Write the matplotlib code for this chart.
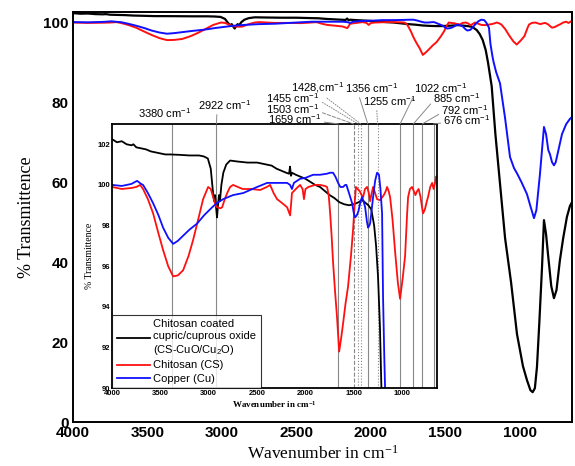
import numpy as np
import matplotlib
matplotlib.use('Agg')
import matplotlib.pyplot as plt

plt.rcParams['font.family'] = ['Liberation Sans', 'DejaVu Sans']
plt.rcParams['mathtext.default'] = 'regular'

# FTIR spectra (wavenumber, % transmittance)
black_w = [4000, 3950, 3900, 3850, 3800, 3780, 3750, 3700, 3650, 3600, 3550, 3500, 3450, 3400, 3300, 3200,
           3100, 3050, 3010, 2980, 2960, 2945, 2935, 2925, 2915, 2905, 2895, 2885, 2870, 2850, 2820, 2780,
           2700, 2600, 2500, 2400, 2350, 2300, 2250, 2200, 2170, 2160, 2150, 2140, 2100, 2050, 2000, 1950,
           1900, 1850, 1800, 1750, 1700, 1650, 1600, 1550, 1500, 1450, 1420, 1400, 1350, 1320, 1290, 1270,
           1250, 1230, 1215, 1190, 1165, 1130, 1100, 1060, 1020, 980, 953, 930, 915, 900, 886, 870,
           852, 839, 825, 812, 790, 772, 755, 732, 710, 685, 665, 651]
black_t = [102.25, 102.1, 102.15, 102.0, 101.95, 102.0, 101.85, 101.8, 101.75, 101.65, 101.6, 101.55, 101.5,
           101.5, 101.48, 101.45, 101.45, 101.4, 101.3, 100.8, 99.8, 99.2, 99.5, 98.9, 98.4, 99.0, 99.5,
           99.2, 100.0, 100.6, 101.0, 101.2, 101.15, 101.1, 101.1, 101.0, 100.95, 100.8, 100.7, 100.6,
           100.55, 100.9, 100.45, 100.6, 100.5, 100.4, 100.3, 100.15, 100.0, 99.9, 99.7, 99.5, 99.35, 99.15,
           99.05, 99.0, 99.05, 99.15, 99.25, 99.2, 99.0, 98.8, 98.0, 97.0, 95.5, 93.0, 90.0, 84.0, 72,
           58, 46, 35, 22, 14, 10.5, 8, 7.5, 8.5, 13.8, 25, 38.8, 50.5, 47, 42, 34, 31, 33, 40.5, 46,
           51.3, 54, 55]

red_w = [4000, 3900, 3800, 3750, 3710, 3680, 3630, 3576, 3520, 3473, 3420, 3369, 3320, 3266, 3210, 3162,
         3110, 3059, 3007, 2980, 2955, 2930, 2914, 2880, 2862, 2835, 2810, 2780, 2749, 2700, 2650, 2560,
         2470, 2400, 2366, 2330, 2294, 2240, 2190, 2159, 2150, 2140, 2100, 2056, 2030, 2016, 2000, 1970,
         1900, 1850, 1800, 1777, 1760, 1745, 1730, 1715, 1695, 1674, 1652, 1630, 1611, 1585, 1560, 1530,
         1508, 1490, 1478, 1460, 1440, 1420, 1404, 1385, 1363, 1345, 1332, 1315, 1301, 1280, 1260, 1230,
         1190, 1170, 1156, 1140, 1125, 1100, 1073, 1045, 1022, 995, 970, 950, 939, 920, 898, 880,
         863, 845, 830, 810, 795, 784, 765, 745, 733, 710, 690, 675, 660, 650]
red_t = [99.9, 99.8, 99.85, 99.9, 100.0, 99.8, 99.3, 98.6, 97.6, 96.8, 96.0, 95.5, 95.55, 95.8, 96.5, 97.3,
         98.3, 99.3, 99.9, 99.8, 99.4, 99.0, 98.9, 98.85, 98.9, 99.3, 99.6, 99.9, 100.0, 99.9, 99.8, 99.8,
         99.75, 99.9, 100.0, 99.6, 99.3, 99.1, 98.9, 98.5, 99.0, 99.6, 99.8, 100.0, 99.8, 99.3, 99.8, 99.9,
         100.0, 100.0, 99.95, 99.9, 99.5, 98.6, 97.5, 96.2, 94.8, 93.5, 91.8, 92.5, 93.2, 94.2, 95.0, 96.5,
         97.8, 99.2, 99.9, 99.8, 99.7, 99.5, 99.4, 99.8, 99.9, 99.6, 99.2, 99.6, 99.9, 99.6, 99.3, 99.25,
         99.5, 99.7, 99.9, 99.7, 99.4, 98.3, 96.7, 95.2, 94.4, 95.4, 96.5, 98.5, 99.4, 99.8, 99.9, 99.7,
         99.5, 99.7, 99.8, 99.4, 98.9, 98.6, 98.8, 99.2, 99.4, 99.9, 100.1, 99.8, 100.1, 100.4]

blue_w = [4000, 3900, 3800, 3742, 3700, 3680, 3630, 3576, 3520, 3473, 3420, 3369, 3320, 3266, 3200, 3121,
          3050, 2987, 2920, 2852, 2750, 2645, 2500, 2397, 2300, 2190, 2160, 2140, 2120, 2056, 2000, 1921,
          1850, 1780, 1745, 1715, 1690, 1663, 1640, 1611, 1590, 1577, 1550, 1518, 1500, 1487, 1470, 1453,
          1430, 1415, 1400, 1383, 1365, 1353, 1340, 1332, 1315, 1301, 1280, 1260, 1240, 1225, 1208, 1198,
          1185, 1177, 1160, 1134, 1100, 1067, 1040, 1020, 990, 953, 930, 906, 890, 866, 850, 839,
          825, 810, 799, 785, 772, 760, 745, 718, 690, 665, 651]
blue_t = [100.0, 99.95, 100.05, 100.2, 100.05, 100.0, 99.6, 99.1, 98.5, 97.9, 97.4, 97.1, 97.25, 97.5, 97.8,
          98.1, 98.5, 98.8, 99.1, 99.3, 99.5, 99.6, 99.9, 100.1, 100.1, 100.1, 100.0, 99.8, 100.1, 100.3,
          100.35, 100.5, 100.5, 100.55, 100.6, 100.6, 100.4, 100.1, 99.9, 99.9, 100.0, 100.0, 99.6, 99.1,
          98.6, 98.4, 98.5, 98.7, 99.2, 99.4, 99.2, 98.9, 98.2, 97.9, 98.0, 98.1, 98.8, 99.4, 100.2, 100.6,
          100.5, 99.8, 98.6, 94.5, 91.5, 90.0, 87.5, 84.7, 76, 66.3, 63.5, 62.2, 60, 57, 54, 51, 53, 62,
          69, 73.8, 72, 68, 67, 65, 64.2, 65, 67.5, 72, 74.5, 75.8, 76.3]

legend_labels = ['Chitosan coated\ncupric/cuprous oxide\n(CS-CuO/Cu$_2$O)', 'Chitosan (CS)', 'Copper (Cu)']

# marked bands: wavenumber, label, line style
peak_w = [3380, 2922, 1659, 1503, 1455, 1428, 1356, 1255, 1022, 885, 792, 676]
peak_ls = ['-', '-', '-', '--', ':', ':', '-', ':', '-', '-', '-', '-']
# label centre (image pixels) and where the leader leaves the text box
peak_txt = [(165, 113), (225, 105), (295, 119), (293, 109), (293, 98), (318, 88),
            (372, 88), (390, 101), (441, 88), (457, 98), (465, 110), (467, 120)]
peak_rel = [None, (0.35, 0), (1, 0.3), (1, 0.3), (1, 0.3), (0.6, 0),
            (0.25, 0), (0.25, 0), (0, 0), (0, 0.3), (0, 0.3), (0, 0.3)]

fig = plt.figure(figsize=(5.75, 4.66), dpi=100)
ax = fig.add_axes([0.127, 0.094, 0.868, 0.880])
ax.plot(black_w, black_t, color='black', lw=1.6)
ax.plot(red_w, red_t, color='#ff1010', lw=1.4)
ax.plot(blue_w, blue_t, color='#1010ff', lw=1.4)
ax.set_xlim(4000, 650)
ax.set_ylim(0, 102.5)
ax.set_xticks([4000, 3500, 3000, 2500, 2000, 1500, 1000])
ax.set_yticks([0, 20, 40, 60, 80, 100])
ax.tick_params(length=0, labelsize=11, pad=3)
for lab in ax.get_xticklabels() + ax.get_yticklabels():
    lab.set_fontweight('bold')
for s in ax.spines.values():
    s.set_linewidth(1.4)
ax.set_xlabel('Wavenumber in cm$^{-1}$', family='Liberation Serif', fontsize=12.5, labelpad=3)
ax.set_ylabel('% Transmittence', family='Liberation Serif', fontsize=13, labelpad=6)

# inset
axi = fig.add_axes([0.195, 0.167, 0.565, 0.567])
for w, ls in zip(peak_w, peak_ls):
    axi.axvline(w, color='#888888', lw=0.8, ls=ls, zorder=0)
l1, = axi.plot(black_w, black_t, color='black', lw=1.3)
l2, = axi.plot(red_w, red_t, color='#ff1010', lw=1.3)
l3, = axi.plot(blue_w, blue_t, color='#1010ff', lw=1.3)
axi.set_xlim(4000, 640)
axi.set_ylim(90, 103)
axi.set_xticks([4000, 3500, 3000, 2500, 2000, 1500, 1000])
axi.set_yticks([90, 92, 94, 96, 98, 100, 102])
axi.tick_params(length=0, labelsize=5.5, pad=1)
for lab in axi.get_xticklabels() + axi.get_yticklabels():
    lab.set_fontweight('bold')
for s in axi.spines.values():
    s.set_linewidth(1.3)
axi.set_xlabel('Wavenumber in cm$^{-1}$', family='Liberation Serif', fontsize=6.5, fontweight='bold', labelpad=2)
axi.set_ylabel('% Transmittence', family='Liberation Serif', fontsize=7, labelpad=3)
leg = axi.legend([l1, l2, l3], legend_labels, loc='lower left', fontsize=8, borderaxespad=0,
                 fancybox=False, edgecolor='black', handlelength=3.0, labelspacing=0.3,
                 borderpad=0.4, handletextpad=0.3)
leg.get_frame().set_linewidth(0.8)

for w, ls, (tx, ty), rel in zip(peak_w, peak_ls, peak_txt, peak_rel):
    txt = '%d cm$^{-1}$' % w
    if w == 1428:
        txt = '1428,cm$^{-1}$'
    if rel is None:
        axi.annotate(txt, xy=(w, 103), xycoords='data', xytext=(tx, 466 - ty),
                     textcoords='figure pixels', ha='center', va='center', fontsize=8)
    else:
        axi.annotate(txt, xy=(w, 103), xycoords='data', xytext=(tx, 466 - ty),
                     textcoords='figure pixels', ha='center', va='center', fontsize=8,
                     arrowprops=dict(arrowstyle='-', color='#888888', lw=0.7, ls=ls,
                                     shrinkA=0, shrinkB=0, relpos=rel))

fig.savefig('out.png', dpi=100)
